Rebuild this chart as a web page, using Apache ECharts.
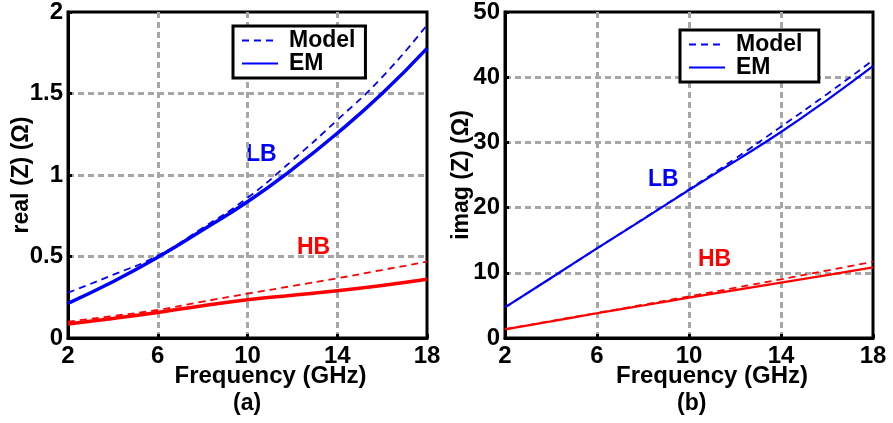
<!DOCTYPE html>
<html>
<head>
<meta charset="utf-8">
<script src="https://cdn.jsdelivr.net/npm/echarts@6/dist/echarts.min.js"></script>
<style>
  html, body { margin: 0; padding: 0; background: #fff; }
  #chart { width: 893px; height: 423px; }
</style>
</head>
<body>
<div id="chart"></div>
<script>
// frequency points (GHz)
const freq = [2, 4, 6, 8, 10, 12, 14, 16, 18];

// (a) real(Z)
const realLbModel = [0.278, 0.387, 0.505, 0.675, 0.86, 1.09, 1.337, 1.60, 1.92];
const realLbEm    = [0.213, 0.345, 0.495, 0.663, 0.836, 1.035, 1.256, 1.50, 1.777];
const realHbModel = [0.10, 0.135, 0.172, 0.223, 0.272, 0.319, 0.366, 0.417, 0.468];
const realHbEm    = [0.086, 0.12, 0.157, 0.198, 0.235, 0.262, 0.29, 0.322, 0.36];

// (b) imag(Z)
const imagLbModel = [4.7, 9.2, 13.75, 18.25, 22.8, 27.5, 32.4, 37.4, 42.6];
const imagLbEm    = [4.7, 9.2, 13.75, 18.2, 22.7, 27.1, 31.6, 36.5, 41.7];
const imagHbModel = [1.35, 2.6, 3.85, 5.1, 6.4, 7.7, 9.0, 10.35, 11.7];
const imagHbEm    = [1.33, 2.55, 3.79, 4.98, 6.18, 7.35, 8.5, 9.65, 10.84];

const font = 'Liberation Sans, Arial, sans-serif';
const pair = (ys) => freq.map((f, i) => [f, ys[i]]);

function line(name, xi, data, color, dashed, width) {
  return {
    name: name,
    type: 'line',
    xAxisIndex: xi,
    yAxisIndex: xi,
    data: pair(data),
    smooth: true,
    showSymbol: false,
    symbol: 'none',
    lineStyle: { color: color, width: width, type: dashed ? [7, 5] : 'solid' },
    itemStyle: { color: color },
    z: dashed ? 3 : 2
  };
}

const gridLine = { lineStyle: { color: '#a6a6a6', width: 3, type: [6, 4] }, showMinLine: false, showMaxLine: false };

function xAxis(gi) {
  return {
    type: 'value', gridIndex: gi, min: 2, max: 18, interval: 4,
    name: 'Frequency (GHz)', nameLocation: 'middle', nameGap: 26, nameMoveOverlap: false,
    nameTextStyle: { fontFamily: font, fontWeight: 'bold', fontSize: 24, color: '#000', padding: [0, 0, 0, 46] },
    axisLine: { lineStyle: { color: '#000', width: 3 } },
    axisTick: { inside: true, length: 4, lineStyle: { color: '#000', width: 3 } },
    axisLabel: { fontFamily: font, fontWeight: 'bold', fontSize: 24, color: '#000', margin: 6 },
    splitLine: gridLine
  };
}

function yAxis(gi, max, interval, name, nameGap) {
  return {
    type: 'value', gridIndex: gi, min: 0, max: max, interval: interval,
    name: name, nameLocation: 'middle', nameGap: nameGap, nameMoveOverlap: false,
    nameTextStyle: { fontFamily: font, fontWeight: 'bold', fontSize: 23, color: '#000' },
    axisLine: { show: true, lineStyle: { color: '#000', width: 3 } },
    axisTick: { show: true, inside: true, length: 4, lineStyle: { color: '#000', width: 3 } },
    axisLabel: { fontFamily: font, fontWeight: 'bold', fontSize: 24, color: '#000', margin: 5 },
    splitLine: gridLine
  };
}

function legend(gi, left, top) {
  return {
    data: gi === 0 ? ['Model', 'EM'] : ['Model ', 'EM '],
    orient: 'vertical',
    left: left, top: top,
    itemWidth: 36, itemHeight: 12, itemGap: 0,
    padding: [3, 10, 3, 8],
    backgroundColor: '#fff',
    borderColor: '#000', borderWidth: 3, borderRadius: 0,
    itemStyle: { opacity: 0 },
    textStyle: { fontFamily: font, fontWeight: 'bold', fontSize: 23, color: '#000', padding: [0, 0, 0, 6] },
    selectedMode: false
  };
}

const chart = echarts.init(document.getElementById('chart'));
chart.setOption({
  animation: false,
  backgroundColor: '#fff',
  grid: [
    { left: 68, top: 12, width: 359, height: 326, show: true, borderColor: '#000', borderWidth: 3, containLabel: false },
    { left: 505, top: 12, width: 368, height: 326, show: true, borderColor: '#000', borderWidth: 3, containLabel: false }
  ],
  xAxis: [xAxis(0), xAxis(1)],
  yAxis: [yAxis(0, 2, 0.5, 'real (Z) (Ω)', 35), yAxis(1, 50, 10, 'imag (Z) (Ω)', 32)],
  legend: [legend(0, 233, 26), legend(1, 680, 30)],
  graphic: [
    { type: 'text', left: 246, top: 143, style: { text: 'LB', fill: '#0000ff', font: 'bold 23px ' + font } },
    { type: 'text', left: 297, top: 236, style: { text: 'HB', fill: '#ff0000', font: 'bold 23px ' + font } },
    { type: 'text', left: 648, top: 168, style: { text: 'LB', fill: '#0000ff', font: 'bold 23px ' + font } },
    { type: 'text', left: 698, top: 248, style: { text: 'HB', fill: '#ff0000', font: 'bold 23px ' + font } },
    { type: 'text', left: 233, top: 392, style: { text: '(a)', fill: '#000', font: 'bold 23px ' + font } },
    { type: 'text', left: 677, top: 392, style: { text: '(b)', fill: '#000', font: 'bold 23px ' + font } }
  ],
  series: [
    line('Model', 0, realLbModel, '#0000ff', true, 1.8),
    line('EM', 0, realLbEm, '#0000ff', false, 3.5),
    line('HB Model', 0, realHbModel, '#ff0000', true, 1.8),
    line('HB EM', 0, realHbEm, '#ff0000', false, 3.5),
    line('Model ', 1, imagLbModel, '#0000ff', true, 1.8),
    line('EM ', 1, imagLbEm, '#0000ff', false, 2.2),
    line('HB Model ', 1, imagHbModel, '#ff0000', true, 1.8),
    line('HB EM ', 1, imagHbEm, '#ff0000', false, 2.2)
  ]
});
</script>
</body>
</html>
